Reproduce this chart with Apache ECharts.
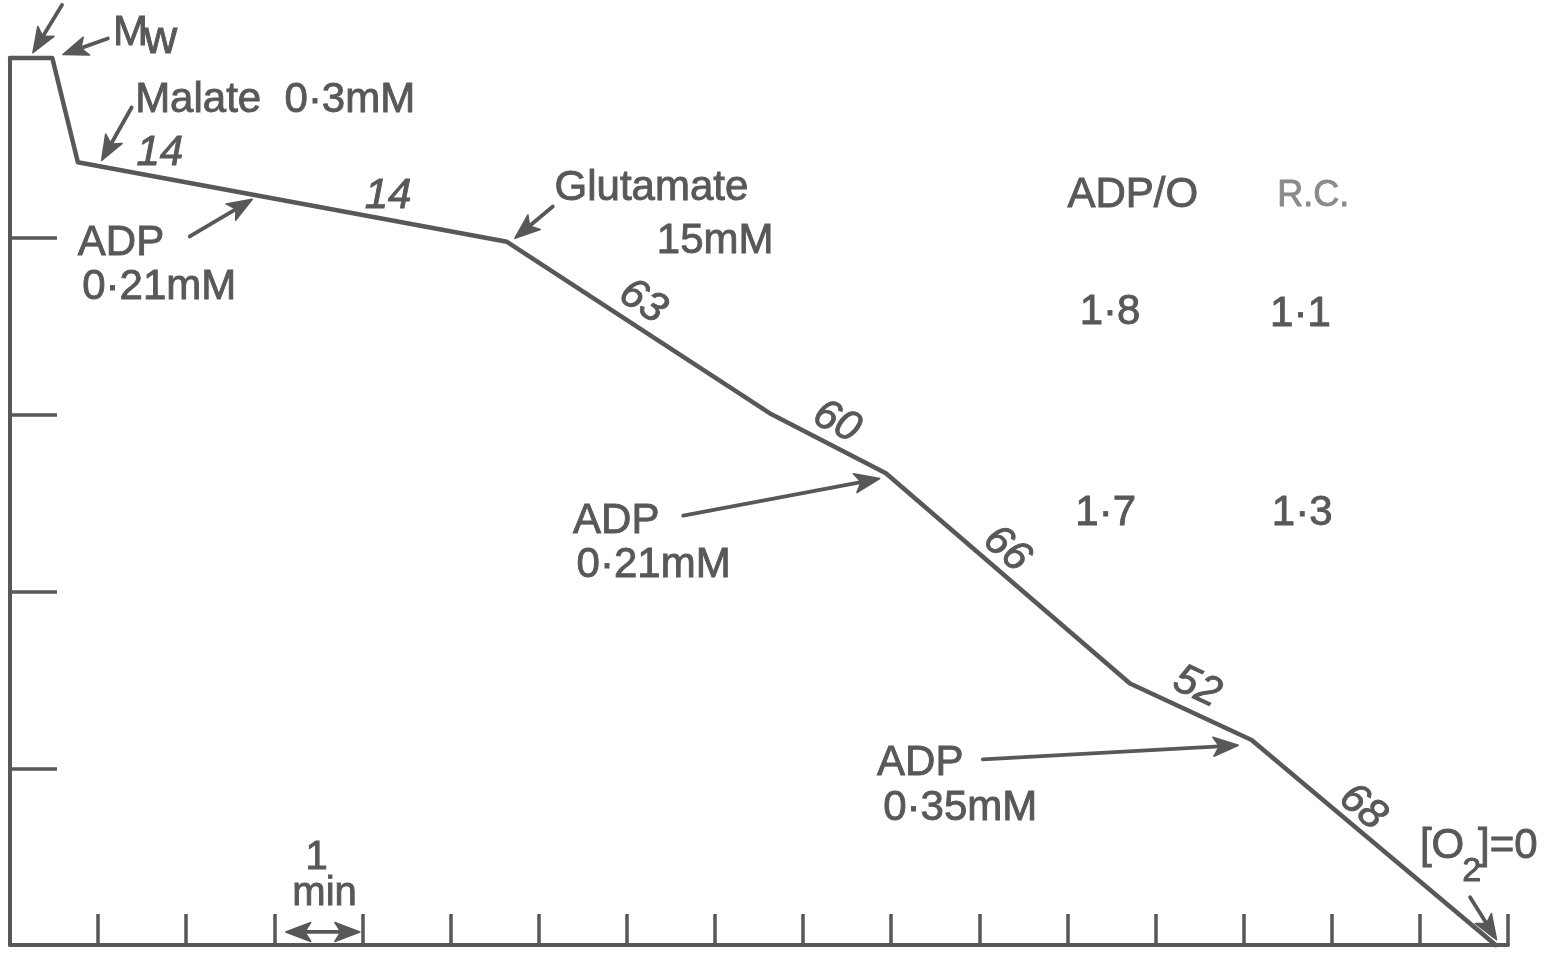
<!DOCTYPE html>
<html>
<head>
<meta charset="utf-8">
<script src="https://cdn.jsdelivr.net/npm/echarts@6/dist/echarts.min.js"></script>
<style>
  html, body { margin: 0; padding: 0; background: #fff; }
  #chart { width: 1549px; height: 953px; }
</style>
</head>
<body>
<div id="chart"></div>
<script>
// Oxygen electrode trace: time (min) against O2 remaining (chart divisions)
const traceTime = [0, 0.48, 0.77, 5.64, 8.62, 9.94, 12.71, 14.09, 16.86];
const traceO2   = [5.02, 5.02, 4.43, 3.98, 3.01, 2.67, 1.48, 1.16, 0];

// Respiration rates written along the trace, and the trace segment each belongs to
const rateLabels  = ['14', '14', '63', '60', '66', '52', '68'];
const rateSegment = [2, 2, 3, 4, 5, 6, 7];
const rateAlongSlope = [false, false, true, true, true, true, true];

// ADP/O and respiratory control ratios
const ratioHeaders = ['ADP/O', 'R.C.'];
const adpORatios = ['1·8', '1·7'];
const rcRatios = ['1·1', '1·3'];

// Additions to the chamber
const additionNames = ['ADP', 'Glutamate', 'ADP', 'ADP'];
const additionConcs = ['0·21mM', '15mM', '0·21mM', '0·35mM'];
const malateLabel = 'Malate  0·3mM';
const endLabel = ['[O', '2', ']=0'];
const scaleLabel = ['1', 'min'];

const INK = '#585858';
const FONT = '"Liberation Sans", Arial, sans-serif';

// Annotation placement (data units: minutes, divisions)
const layout = {
  rate: [[1.70, 4.48], [4.29, 4.24], [7.18, 3.64], [9.38, 2.96], [11.31, 2.24], [13.47, 1.46], [15.35, 0.78]],
  additionName: [[0.77, 3.97], [6.18, 4.28], [6.39, 2.40], [9.84, 1.03]],
  additionConc: [[0.82, 3.72], [7.34, 3.98], [6.43, 2.15], [9.91, 0.775]],
  malate: [1.42, 4.78],
  mw: [[1.17, 5.16], [1.52, 5.12]],
  headers: [[12.0, 4.24], [14.38, 4.24]],
  adpO: [[12.14, 3.58], [12.09, 2.44]],
  rc: [[14.30, 3.57], [14.32, 2.44]],
  scale: [[3.48, 0.49], [3.57, 0.29]],
  end: [[16.0, 0.56], [16.48, 0.415], [16.66, 0.56]]
};

const arrows = [
  { from: [0.59, 5.32], to: [0.26, 5.05] },
  { from: [1.11, 5.13], to: [0.60, 5.04] },
  { from: [1.38, 4.74], to: [1.04, 4.44] },
  { from: [2.04, 4.01], to: [2.75, 4.22] },
  { from: [6.16, 4.18], to: [5.73, 4.00] },
  { from: [7.64, 2.43], to: [9.87, 2.64] },
  { from: [11.04, 1.05], to: [13.94, 1.13] },
  { from: [16.57, 0.27], to: [16.87, 0.03] },
  { from: [3.13, 0.074], to: [3.97, 0.074], both: true }
];

const chart = echarts.init(document.getElementById('chart'), null, { renderer: 'canvas' });

const traceData = traceTime.map((t, i) => [t, traceO2[i]]);

chart.setOption({
  animation: false,
  backgroundColor: '#ffffff',
  grid: { left: 10, right: 41, top: 58, bottom: 8, containLabel: false },
  xAxis: {
    type: 'value', min: 0, max: 17, interval: 1,
    axisLine: { show: true, lineStyle: { color: INK, width: 4 } },
    axisTick: { show: true, inside: true, length: 31, lineStyle: { color: INK, width: 3.5 } },
    axisLabel: { show: false },
    splitLine: { show: false }
  },
  yAxis: {
    type: 'value', min: 0, max: 5.02,
    axisLine: { show: true, lineStyle: { color: INK, width: 4 } },
    axisTick: { show: true, inside: true, length: 47, customValues: [1, 2, 3, 4], lineStyle: { color: INK, width: 3.5 } },
    axisLabel: { show: false },
    splitLine: { show: false }
  },
  series: [{
    type: 'line',
    data: traceData,
    showSymbol: false,
    symbol: 'none',
    clip: false,
    silent: true,
    lineStyle: { color: INK, width: 4.5, join: 'round', cap: 'round' }
  }]
});

const toPx = (p) => chart.convertToPixel({ gridIndex: 0 }, p);

function text(str, pos, opts) {
  const o = opts || {};
  const p = toPx(pos);
  const fill = o.fill || INK;
  return {
    type: 'text', x: p[0], y: p[1], rotation: o.rotation || 0, silent: true,
    style: {
      text: str,
      fill: fill,
      stroke: fill,
      lineWidth: 0.9,
      font: (o.italic ? 'italic ' : '') + (o.size || 42) + 'px ' + FONT,
      align: o.align || 'left',
      verticalAlign: 'middle'
    }
  };
}

// filled arrow head with a shallow notch, tip at `tip`, pointing away from `tail`
function head(tip, tail) {
  const dx = tip[0] - tail[0], dy = tip[1] - tail[1];
  const len = Math.hypot(dx, dy);
  const ux = dx / len, uy = dy / len;
  const L = 25, W = 9.5, N = 6;
  const bx = tip[0] - ux * L, by = tip[1] - uy * L;
  const pts = [
    tip,
    [bx - uy * W, by + ux * W],
    [tip[0] - ux * (L - N), tip[1] - uy * (L - N)],
    [bx + uy * W, by - ux * W]
  ];
  return {
    el: { type: 'polygon', silent: true, shape: { points: pts }, style: { fill: INK, stroke: INK, lineWidth: 1.5, lineJoin: 'round' } },
    base: [tip[0] - ux * (L - N), tip[1] - uy * (L - N)]
  };
}

function arrow(a) {
  const s = toPx(a.from), e = toPx(a.to);
  const out = [];
  const h1 = head(e, s);
  out.push(h1.el);
  let start = s;
  if (a.both) {
    const h0 = head(s, e);
    out.push(h0.el);
    start = h0.base;
  }
  out.unshift({
    type: 'line', silent: true,
    shape: { x1: start[0], y1: start[1], x2: h1.base[0], y2: h1.base[1] },
    style: { stroke: INK, lineWidth: 3.8, lineCap: 'round' }
  });
  return out;
}

const g = [];

arrows.forEach(a => arrow(a).forEach(el => g.push(el)));

// rate labels, turned to follow their trace segment where written along it
rateLabels.forEach((r, i) => {
  let rot = 0;
  if (rateAlongSlope[i]) {
    const s = rateSegment[i];
    const a = toPx(traceData[s]);
    const b = toPx(traceData[s + 1]);
    rot = -Math.atan2(b[1] - a[1], b[0] - a[0]);
  }
  g.push(text(r, layout.rate[i], { italic: true, size: 42, align: 'center', rotation: rot }));
});

additionNames.forEach((n, i) => g.push(text(n, layout.additionName[i])));
additionConcs.forEach((c, i) => g.push(text(c, layout.additionConc[i])));
g.push(text(malateLabel, layout.malate));
g.push(text('M', layout.mw[0], { size: 42 }));
g.push(text('w', layout.mw[1], { size: 46 }));

g.push(text(ratioHeaders[0], layout.headers[0]));
g.push(text(ratioHeaders[1], layout.headers[1], { size: 36, fill: '#8a8a8a' }));
adpORatios.forEach((v, i) => g.push(text(v, layout.adpO[i])));
rcRatios.forEach((v, i) => g.push(text(v, layout.rc[i])));

g.push(text(scaleLabel[0], layout.scale[0], { size: 40, align: 'center' }));
g.push(text(scaleLabel[1], layout.scale[1], { size: 40, align: 'center' }));

g.push(text(endLabel[0], layout.end[0], { size: 42 }));
g.push(text(endLabel[1], layout.end[1], { size: 34 }));
g.push(text(endLabel[2], layout.end[2], { size: 42 }));

chart.setOption({ graphic: g });
</script>
</body>
</html>
